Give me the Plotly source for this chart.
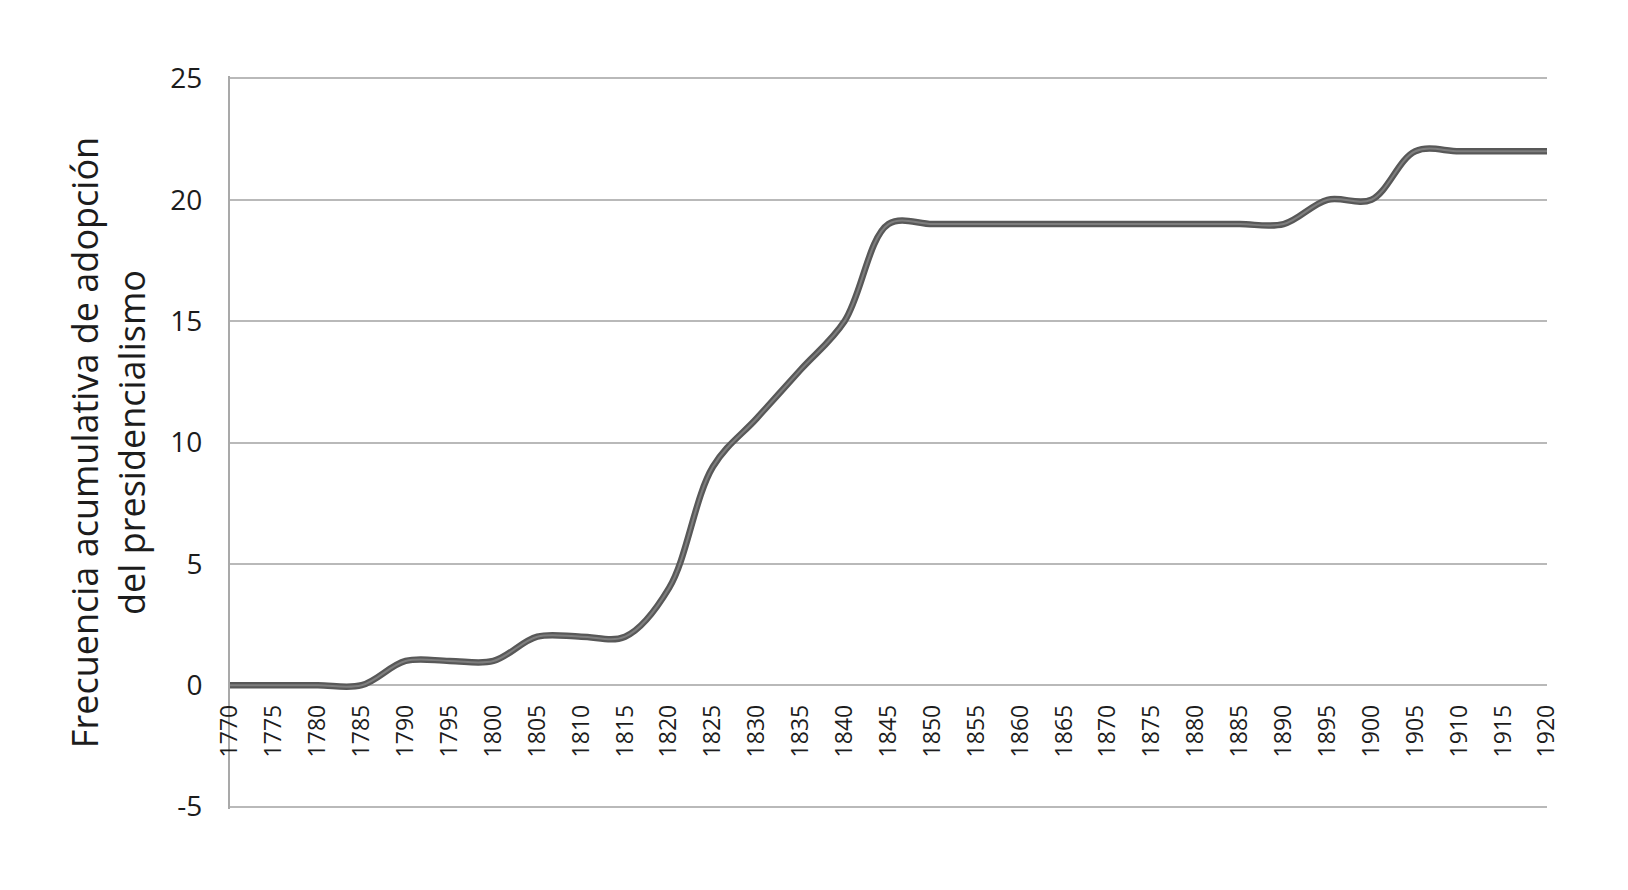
import plotly.graph_objects as go

# cumulative count of presidential-system adoptions
years = list(range(1770, 1925, 5))
adoptions = [0, 0, 0, 0, 1, 1, 1, 2, 2, 2, 4, 9, 11, 13, 15, 19,
             19, 19, 19, 19, 19, 19, 19, 19, 19, 20, 20, 22, 22, 22, 22]

y_ticks = [-5, 0, 5, 10, 15, 20, 25]
y_labels = ["-5", "0", "5", "10", "15", "20", "25"]
y_title = "Frecuencia acumulativa de adopción<br>del presidencialismo"

FONT = "Open Sans"
TEXT = "#1c1c1c"
GRID = "#b9b9b9"
PAD = 0.1  # keeps the gridlines at -5 and 25 from being dropped at the edges

fig = go.Figure()

# outer dark stroke, then a lighter core to get the bevelled Excel look
fig.add_trace(go.Scatter(
    x=years, y=adoptions, mode="lines",
    line=dict(color="#585858", width=6.5, shape="spline", smoothing=1.0),
    hoverinfo="skip", showlegend=False,
))
fig.add_trace(go.Scatter(
    x=years, y=adoptions, mode="lines",
    line=dict(color="#7e7e7e", width=2, shape="spline", smoothing=1.0),
    showlegend=False,
))

# page body has an 8px default margin, so the figure is sized to fit the window
fig.update_layout(
    width=1620, height=882,
    margin=dict(l=222, r=81, t=68, b=81),
    paper_bgcolor="white",
    plot_bgcolor="white",
    font=dict(family=FONT, color=TEXT),
    showlegend=False,
)

fig.update_xaxes(
    range=[1770, 1920],
    tickmode="array", tickvals=years, ticktext=[str(v) for v in years],
    tickangle=-90,
    tickfont=dict(size=23, family=FONT, color=TEXT),
    showgrid=False, zeroline=False, showline=False, ticks="",
    anchor="free", position=(5 + PAD) / (30 + 2 * PAD),
    ticklabelstandoff=14,
    automargin=False,
)

fig.update_yaxes(
    range=[-5 - PAD, 25 + PAD],
    tickmode="array", tickvals=y_ticks, ticktext=y_labels,
    tickfont=dict(size=28, family=FONT, color=TEXT),
    showgrid=True, gridcolor=GRID, gridwidth=2,
    zeroline=False,
    showline=True, linecolor="#a9a9a9", linewidth=2,
    ticks="", ticklabelstandoff=20,
    title=dict(text=y_title, font=dict(size=36, family=FONT, color=TEXT), standoff=14),
    automargin=False,
)

fig.write_html("out.html")
